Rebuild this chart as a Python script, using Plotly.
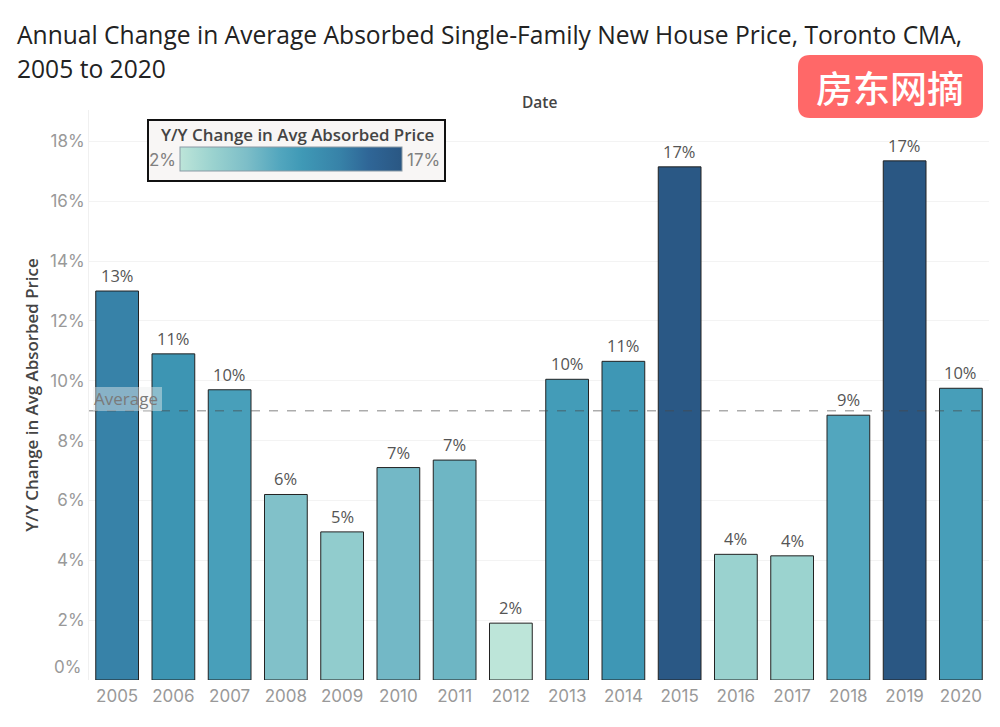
import plotly.graph_objects as go

years = ["2005","2006","2007","2008","2009","2010","2011","2012","2013","2014","2015","2016","2017","2018","2019","2020"]
changes = [13.0,10.9,9.7,6.2,4.95,7.1,7.35,1.9,10.05,10.65,17.15,4.2,4.15,8.85,17.35,9.75]
average = 9.0
y_ticks = [2,4,6,8,10,12,14,16,18]
W, H = 1000, 727
L, R, T, B = 89, 989, 110, 680
px = lambda x: (x - L) / (R - L)
py = lambda y: (B - y) / (B - T)

scale = [[0,"#bde5d9"],[0.15,"#9ad2cf"],[0.3,"#7dbec8"],[0.45,"#52a6be"],[0.55,"#3f99b6"],[0.72,"#3782a8"],[0.85,"#2f6697"],[1,"#2a5783"]]
FONT = "Inter"
HEAD = "Open Sans"

fig = go.Figure(go.Bar(
    x=years, y=changes, width=0.76,
    marker=dict(color=changes, colorscale=scale, cmin=1.9, cmax=17.35,
                line=dict(color="#222222", width=1),
                colorbar=dict(orientation="h", x=px(180), xanchor="left", y=py(172), yanchor="bottom",
                              len=222, lenmode="pixels", thickness=24, thicknessmode="pixels",
                              showticklabels=False, ticks="", outlinecolor="#8a9aa5", outlinewidth=1,
                              xpad=0, ypad=0, borderwidth=0)),
    hoverinfo="skip",
))

shapes = [
    dict(type="line", xref="paper", yref="y", x0=0, x1=1, y0=average, y1=average, layer="above",
         line=dict(color="rgba(70,70,70,0.45)", width=1.5, dash="dash")),
    dict(type="rect", xref="paper", yref="paper", x0=px(148), x1=px(445), y0=py(181), y1=py(120), layer="above",
         fillcolor="#f8f6f5", line=dict(color="#111111", width=2)),
    dict(type="rect", xref="paper", yref="paper", x0=px(93), x1=px(162), y0=py(411), y1=py(387), layer="above",
         fillcolor="rgba(235,238,238,0.45)", line=dict(width=0)),
    dict(type="path", xref="paper", yref="paper", layer="above", fillcolor="#ff6868", line=dict(width=0),
         path=(f"M {px(810)} {py(55)} L {px(971)} {py(55)} Q {px(983)} {py(55)} {px(983)} {py(67)} "
               f"L {px(983)} {py(106)} Q {px(983)} {py(118)} {px(971)} {py(118)} "
               f"L {px(810)} {py(118)} Q {px(798)} {py(118)} {px(798)} {py(106)} "
               f"L {px(798)} {py(67)} Q {px(798)} {py(55)} {px(810)} {py(55)} Z")),
]

def note(x, y, text, size, color, anchor="center", family=FONT, weight=400):
    return dict(xref="paper", yref="paper", x=px(x), y=py(y), text=text, showarrow=False, xanchor=anchor,
                yanchor="middle", font=dict(family=family, size=size, color=color, weight=weight))

annotations = [
    note(15, 34, "Annual Change in Average Absorbed Single-Family New House Price, Toronto CMA,", 24.6, "#222222", "left", HEAD, 500),
    note(15, 68, "2005 to 2020", 24.6, "#222222", "left", HEAD, 500),
    note(539, 102, "Date", 15.5, "#444444", "center", HEAD, 600),
    note(297, 134, "Y/Y Change in Avg Absorbed Price", 16.9, "#444444", "center", HEAD, 600),
    note(178, 160, "2%", 17, "#808080", "right"),
    note(405, 160, "17%", 17, "#808080", "left"),
    note(92, 398, "Average", 17, "#7a7a7a", "left", HEAD),
    note(83, 667, "0%", 17, "#999999", "right"),
    note(890, 87, "房东网摘", 37, "#ffffff", "center", "Noto Sans CJK SC", 500),
]
for i, v in enumerate(changes):
    annotations.append(dict(x=i, y=v, xref="x", yref="y", text=f"{v:.0f}%", showarrow=False, yanchor="bottom",
                            yshift=2, font=dict(family=HEAD, size=16.5, color="#555555")))

fig.update_layout(
    width=W, height=H, margin=dict(l=L, r=W-R, t=T, b=H-B),
    paper_bgcolor="white", plot_bgcolor="white", showlegend=False,
    shapes=shapes, annotations=annotations,
    xaxis=dict(type="category", range=[-0.5,15.5], showgrid=False, zeroline=False, showline=False, ticks="",
               ticklabelstandoff=4, tickfont=dict(family=FONT, size=17, color="#999999")),
    yaxis=dict(range=[0,19.05], tickvals=y_ticks, ticktext=[f"{t}%" for t in y_ticks], gridcolor="#f3f3f3",
               zeroline=False, showline=True, linecolor="#f0f0f0", ticks="",
               tickfont=dict(family=FONT, size=17, color="#999999"),
               title=dict(text="Y/Y Change in Avg Absorbed Price", standoff=7,
                          font=dict(family=HEAD, size=16.9, color="#444444", weight=600))),
)
fig.write_html("out.html", config=dict(displayModeBar=False), post_script="document.body.style.margin='0';")
